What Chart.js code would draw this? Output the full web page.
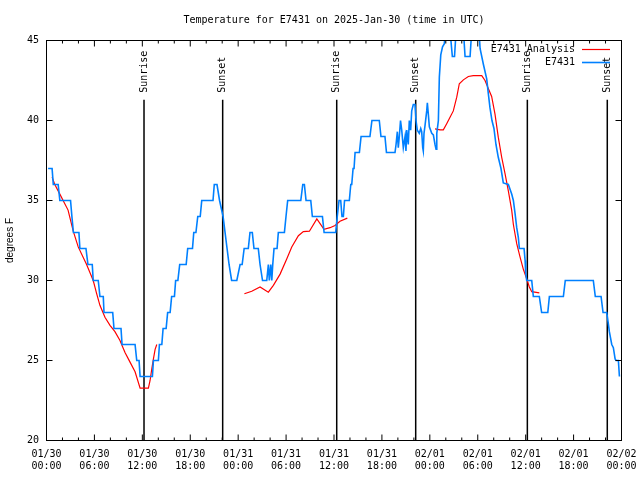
<!DOCTYPE html>
<html><head><meta charset="utf-8">
<script src="https://cdn.jsdelivr.net/npm/chart.js@4/dist/chart.umd.min.js"></script>
<style>html,body{margin:0;padding:0;background:#fff}canvas{display:block}</style>
</head><body>
<canvas id="c" width="640" height="480"></canvas>
<script>
const titleText = 'Temperature for E7431 on 2025-Jan-30 (time in UTC)';
const yAxisTitle = 'degrees F';
const seriesNames = ['E7431 Analysis', 'E7431'];

const tickHours = [0, 6, 12, 18, 24, 30, 36, 42, 48, 54, 60, 66, 72];
const tickDates = ['01/30','01/30','01/30','01/30','01/31','01/31','01/31','01/31','02/01','02/01','02/01','02/01','02/02'];
const tickTimes = ['00:00','06:00','12:00','18:00','00:00','06:00','12:00','18:00','00:00','06:00','12:00','18:00','00:00'];
const yTicks = [20, 25, 30, 35, 40, 45];

const sunHours = [12.21, 22.06, 36.34, 46.23, 60.21, 70.22];
const sunLabels = ['Sunrise', 'Sunset', 'Sunrise', 'Sunset', 'Sunrise', 'Sunset'];
const sunLineTop = 41.29;

// observed station temperatures (hours since 01/30 00:00 UTC)
const obsHours = [0.2,0.7,0.85,1.46,1.67,3.01,3.18,3.37,4.06,4.18,4.94,5.19,5.73,5.85,6.48,6.69,7.11,7.2,8.29,8.45,9.33,9.46,11.09,11.3,11.59,11.72,13.26,13.39,14.01,14.14,14.44,14.6,14.98,15.17,15.48,15.67,16.02,16.17,16.45,16.68,17.49,17.68,18.28,18.44,18.71,18.94,19.25,19.44,20.85,21.01,21.35,21.67,22.11,22.36,22.61,22.86,23.18,23.83,24.24,24.5,24.75,
 25.27,25.48,25.77,25.98,26.52,26.74,27.05,27.58,27.78,27.9,28.08,28.21,28.33,28.49,28.87,29.03,29.79,
 29.99,30.2,31.84,32.09,32.29,32.5,33.09,33.29,34.55,34.76,
 36.21,36.41,36.63,36.84,37.0,37.17,37.32,37.92,38.1,38.22,38.39,38.51,38.64,39.18,39.39,
 40.5,40.75,41.67,41.88,42.38,42.57,43.64,43.77,43.93,44.05,44.18,44.33,44.48,44.68,44.9,
 45.01,45.11,45.3,45.43,45.6,45.73,45.93,46.14,46.27,46.43,46.68,46.86,46.98,47.11,47.18,47.27,47.4,47.61,47.69,47.81,47.94,48.24,48.44,48.65,48.78,48.87,49.07,49.19,49.37,49.59,49.82,
 49.96,50.46,50.82,51.09,51.34,52.16,52.41,53.04,53.29,54.11,54.29,54.71,55.12,
 55.32,55.53,55.78,56.03,56.28,56.57,56.91,57.2,57.83,58.25,58.46,58.67,58.88,59.08,59.21,59.8,59.93,
 60.0,60.13,60.76,60.96,61.71,62.0,62.77,62.97,64.72,
 64.96,68.47,68.72,69.44,69.69,70.15,70.35,70.48,70.78,70.98,71.2,71.32,71.61,71.74];
const obsTemps = [37,37,36,36,35,35,34,33,33,32,32,31,31,30,30,29,29,28,28,27,27,26,26,25,25,24,24,25,25,26,26,27,27,28,28,29,29,30,30,31,31,32,32,33,33,34,34,35,35,36,36,35,34,33,32,31,30,30,31,31,32,
 32,33,33,32,32,31,30,30,31,30,31,30,31,32,32,33,33,
 34,35,35,36,36,35,35,34,34,33,
 33,34,35,35,34,34,35,35,36,36,37,37,38,38,39,
 39,40,40,39,39,38,38,38.5,39.3,38.3,39,40,39.4,38.3,39,
 38.1,39.4,38.5,40,39.4,40.6,41,41,40,39.4,39.2,39.5,39.3,38.3,38.1,39.2,39.7,40.6,41.1,40.4,39.6,39.2,39.1,38.5,38.2,39.2,40,42.7,44.1,44.6,44.8,
 46,46,44,44,46,46,44,44,46,46,44.5,43.5,42.6,
 41.7,40.8,40,39.5,38.5,37.7,37,36.1,36,35.4,35,34.2,33.3,32.7,32,32,31.25,
 30.5,30,30,29,29,28,28,29,29,
 30,30,29,29,28,28,27.3,26.8,26,25.8,25.1,25,25,24];

// analysis temperatures (null = gap)
const anaHours = [0.70,1.04,1.67,2.70,3.34,3.97,5.02,5.85,6.06,6.27,6.69,7.32,7.95,8.57,9.20,9.83,10.46,11.09,11.72,12.76,12.97,13.19,13.39,13.60,13.81,
 19.0,
 24.78,25.7,26.74,27.78,28.41,29.25,30.08,30.71,31.54,32.16,32.92,33.85,34.75,35.5,36.13,36.75,37.67,
 43.0,
 48.65,49.28,49.69,50.11,50.53,50.94,51.37,51.69,52.2,52.82,53.44,54.5,54.91,55.32,55.74,56.16,56.57,57.0,57.41,57.83,58.25,58.46,58.88,59.3,59.71,60.13,60.46,60.76,61.71];
const anaTemps = [36.46,36.0,35.4,34.4,33.1,32.1,31.0,30.0,29.6,29.2,28.45,27.7,27.2,26.8,26.25,25.5,24.9,24.3,23.27,23.27,23.75,24.5,25.1,25.7,26.0,
 null,
 29.17,29.33,29.6,29.27,29.7,30.4,31.35,32.1,32.8,33.06,33.08,33.85,33.2,33.3,33.44,33.7,33.9,
 null,
 39.48,39.42,39.42,39.8,40.2,40.6,41.46,42.3,42.54,42.75,42.8,42.8,42.5,42.0,41.5,40.4,38.96,37.7,36.7,35.6,34.4,33.5,32.3,31.46,30.7,30.1,29.6,29.3,29.23];

const MONO = '"DejaVu Sans Mono", "Liberation Mono", monospace';
const BLUE = '#0080ff';
const RED = '#ff0000';

const framePlugin = {
  id: 'gnuframe',
  beforeDatasetsDraw(chart) {
    const {ctx, scales: {x, y}} = chart;
    ctx.save();
    ctx.strokeStyle = '#000';
    ctx.lineWidth = 1.5;
    sunHours.forEach(h => {
      const px = x.getPixelForValue(h);
      ctx.beginPath();
      ctx.moveTo(px, y.getPixelForValue(20));
      ctx.lineTo(px, y.getPixelForValue(sunLineTop));
      ctx.stroke();
    });
    ctx.restore();
  },
  afterDatasetsDraw(chart) {
    const {ctx, chartArea: a, scales: {x, y}} = chart;
    ctx.save();
    ctx.strokeStyle = '#000';
    ctx.lineWidth = 1;
    ctx.strokeRect(a.left, a.top, a.right - a.left, a.bottom - a.top);
    ctx.beginPath();
    for (let h = 0; h <= 72; h += 2) {
      const px = x.getPixelForValue(h);
      const len = (h % 6 === 0) ? 6 : 3;
      ctx.moveTo(px, a.bottom); ctx.lineTo(px, a.bottom - len);
      ctx.moveTo(px, a.top); ctx.lineTo(px, a.top + len);
    }
    yTicks.forEach(v => {
      const py = y.getPixelForValue(v);
      ctx.moveTo(a.left, py); ctx.lineTo(a.left + 6, py);
      ctx.moveTo(a.right, py); ctx.lineTo(a.right - 6, py);
    });
    ctx.stroke();

    // sun labels
    ctx.fillStyle = '#000';
    ctx.font = '10px ' + MONO;
    sunHours.forEach((h, i) => {
      const px = x.getPixelForValue(h);
      const py = y.getPixelForValue(sunLineTop) - 7;
      ctx.save();
      ctx.translate(px, py);
      ctx.rotate(-Math.PI / 2);
      ctx.textAlign = 'left';
      ctx.textBaseline = 'middle';
      ctx.fillText(sunLabels[i], 0, 0);
      ctx.restore();
    });

    // legend
    const colors = [RED, BLUE];
    seriesNames.forEach((name, i) => {
      const ly = 49.5 + i * 13;
      ctx.textAlign = 'right';
      ctx.textBaseline = 'middle';
      ctx.fillStyle = '#000';
      ctx.fillText(name, 575, ly);
      ctx.strokeStyle = colors[i];
      ctx.lineWidth = i === 0 ? 1.2 : 1.6;
      ctx.beginPath();
      ctx.moveTo(582, ly); ctx.lineTo(610, ly);
      ctx.stroke();
    });

    // title
    ctx.fillStyle = '#000';
    ctx.textAlign = 'center';
    ctx.textBaseline = 'middle';
    ctx.fillText(titleText, (a.left + a.right) / 2, 20);
    ctx.restore();
  }
};

new Chart(document.getElementById('c'), {
  type: 'line',
  data: {
    datasets: [
      {
        label: seriesNames[1],
        data: obsHours.map((h, i) => ({x: h, y: obsTemps[i]})),
        borderColor: BLUE, borderWidth: 1.6, pointRadius: 0, tension: 0,
        fill: false, clip: 0, order: 0
      },
      {
        label: seriesNames[0],
        data: anaHours.map((h, i) => ({x: h, y: anaTemps[i]})),
        borderColor: RED, borderWidth: 1.2, pointRadius: 0, tension: 0,
        fill: false, clip: 0, spanGaps: false, order: 1
      }
    ]
  },
  options: {
    responsive: false,
    animation: false,
    events: [],
    layout: {padding: {top: 40.5, right: 18.5, left: 0, bottom: 0}},
    scales: {
      x: {
        type: 'linear', min: 0, max: 72,
        afterBuildTicks: s => { s.ticks = tickHours.map(v => ({value: v})); },
        afterFit: s => { s.height = 39.5; s.paddingLeft = 0; s.paddingRight = 0; },
        ticks: {
          autoSkip: false, maxRotation: 0, minRotation: 0, padding: 7.5,
          color: '#000', font: {family: MONO, size: 10},
          callback: v => { const i = tickHours.indexOf(v); return i < 0 ? '' : [tickDates[i], tickTimes[i]]; }
        },
        grid: {display: false, drawTicks: false},
        border: {display: false}
      },
      y: {
        type: 'linear', min: 20, max: 45,
        afterBuildTicks: s => { s.ticks = yTicks.map(v => ({value: v})); },
        afterFit: s => { s.width = 46.5; s.paddingTop = 0; s.paddingBottom = 0; },
        ticks: {padding: 7.5, color: '#000', font: {family: MONO, size: 10}},
        grid: {display: false, drawTicks: false},
        border: {display: false},
        title: {display: true, text: yAxisTitle, color: '#000', font: {family: '"Liberation Sans", Arial, sans-serif', size: 10}, padding: {top: 4, bottom: 0}}
      }
    },
    plugins: {legend: {display: false}, title: {display: false}, tooltip: {enabled: false}}
  },
  plugins: [framePlugin]
});
</script>
</body></html>
